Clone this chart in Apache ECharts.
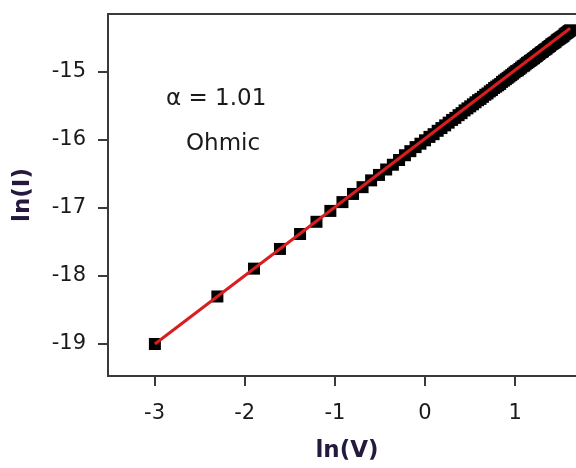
<!DOCTYPE html>
<html>
<head>
<meta charset="utf-8">
<script src="https://cdn.jsdelivr.net/npm/echarts@6/dist/echarts.min.js"></script>
<style>html,body{margin:0;padding:0;background:#fff;}#chart{width:576px;height:468px;}</style>
</head>
<body>
<div id="chart"></div>
<script>
// ln(V) values of the measured points
var lnV = [-2.996,-2.303,-1.897,-1.609,-1.386,-1.204,-1.050,-0.916,-0.799,-0.693,
  -0.598,-0.511,-0.431,-0.357,-0.288,-0.223,-0.163,-0.105,-0.051,0.000,
  0.049,0.095,0.140,0.182,0.223,0.262,0.300,0.336,0.372,0.405,
  0.438,0.470,0.501,0.531,0.560,0.588,0.615,0.642,0.668,0.693,
  0.718,0.742,0.766,0.789,0.811,0.833,0.854,0.876,0.896,0.916,
  0.936,0.956,0.975,0.993,1.012,1.030,1.047,1.065,1.082,1.099,
  1.115,1.131,1.147,1.163,1.179,1.194,1.209,1.224,1.238,1.253,
  1.267,1.281,1.295,1.308,1.322,1.335,1.348,1.361,1.374,1.386,
  1.399,1.411,1.423,1.435,1.447,1.459,1.470,1.482,1.493,1.504,
  1.515,1.526,1.537,1.548,1.558,1.569,1.579,1.589,1.599,1.609];
// ln(I) values of the measured points
var lnI = [-19.01,-18.31,-17.90,-17.61,-17.39,-17.21,-17.05,-16.92,-16.80,-16.70,
  -16.60,-16.52,-16.44,-16.37,-16.30,-16.23,-16.17,-16.11,-16.06,-16.01,
  -15.96,-15.92,-15.87,-15.83,-15.79,-15.75,-15.71,-15.68,-15.64,-15.61,
  -15.57,-15.54,-15.51,-15.48,-15.45,-15.42,-15.40,-15.37,-15.34,-15.32,
  -15.29,-15.27,-15.24,-15.22,-15.20,-15.18,-15.15,-15.13,-15.11,-15.09,
  -15.07,-15.05,-15.03,-15.01,-14.99,-14.98,-14.96,-14.94,-14.92,-14.91,
  -14.89,-14.87,-14.86,-14.84,-14.83,-14.81,-14.80,-14.78,-14.77,-14.75,
  -14.74,-14.72,-14.71,-14.70,-14.68,-14.67,-14.66,-14.64,-14.63,-14.62,
  -14.60,-14.59,-14.58,-14.57,-14.56,-14.54,-14.53,-14.52,-14.51,-14.50,
  -14.49,-14.48,-14.47,-14.45,-14.44,-14.43,-14.42,-14.41,-14.40,-14.39];
// linear fit (alpha = 1.01)
var fitX = [-2.996, 1.609];
var fitY = [-19.01, -14.36];
// tick labels
var xTicks = [-3, -2, -1, 0, 1];
var yTicks = [-19, -18, -17, -16, -15];
var annotAlpha = 'α = 1.01';
var annotType = 'Ohmic';

var pts = lnV.map(function (v, i) { return [v, lnI[i]]; });
var fit = fitX.map(function (v, i) { return [v, fitY[i]]; });

var FONT = 'DejaVu Sans';
var chart = echarts.init(document.getElementById('chart'), null, {renderer: 'canvas'});
chart.setOption({
  animation: false,
  backgroundColor: '#ffffff',
  grid: {left: 108, top: 14, width: 478, height: 362, show: true,
    outerBoundsMode: 'none', containLabel: false,
    borderColor: '#3a3a3a', borderWidth: 2, backgroundColor: 'transparent'},
  xAxis: {
    type: 'value', min: -3.516, max: 1.785,
    splitLine: {show: false},
    axisLine: {show: false, onZero: false},
    axisTick: {show: true, inside: false, length: 10, customValues: xTicks,
      lineStyle: {color: '#3a3a3a', width: 2}},
    axisLabel: {customValues: xTicks, margin: 27, color: '#1a1a1a',
      fontFamily: FONT, fontSize: 21},
    name: 'ln(V)', nameLocation: 'middle', nameGap: 64,
    nameTextStyle: {fontFamily: FONT, fontSize: 23, fontWeight: 'bold', color: '#25193d'}
  },
  yAxis: {
    type: 'value', min: -19.481, max: -14.15,
    splitLine: {show: false},
    axisLine: {show: false, onZero: false},
    axisTick: {show: true, inside: false, length: 10, customValues: yTicks,
      lineStyle: {color: '#3a3a3a', width: 2}},
    axisLabel: {customValues: yTicks, margin: 22, color: '#1a1a1a',
      fontFamily: FONT, fontSize: 21},
    name: 'ln(I)', nameLocation: 'middle', nameGap: 73,
    nameTextStyle: {fontFamily: FONT, fontSize: 23, fontWeight: 'bold', color: '#25193d'}
  },
  series: [
    {type: 'scatter', data: pts, symbol: 'rect', symbolSize: 12,
      itemStyle: {color: '#000000', opacity: 1}, z: 2},
    {type: 'line', data: fit, showSymbol: false, symbol: 'none',
      lineStyle: {color: '#d81e1e', width: 3}, z: 3}
  ],
  graphic: [
    {type: 'text', left: 166, top: 88,
      style: {text: annotAlpha, fontFamily: FONT, fontSize: 23, fill: '#1a1a1a'}},
    {type: 'text', left: 186, top: 133,
      style: {text: annotType, fontFamily: FONT, fontSize: 23, fill: '#1a1a1a'}}
  ]
});
</script>
</body>
</html>
